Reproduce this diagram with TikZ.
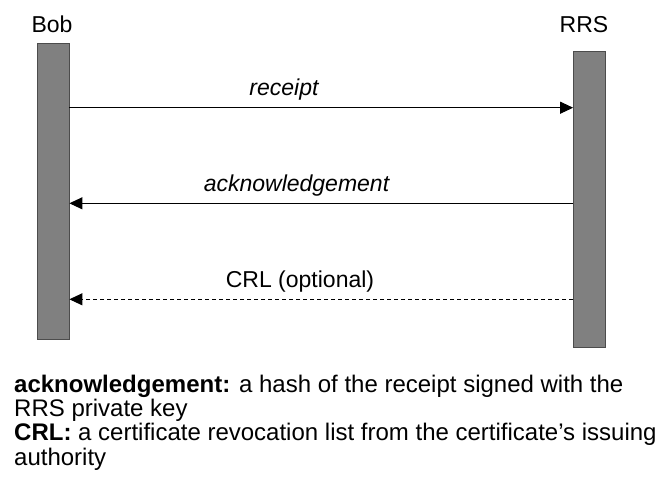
\documentclass[tikz,border=0pt]{standalone}
\usepackage{fontspec}
\setmainfont{Liberation Sans}
\usepackage{tikz}
\usetikzlibrary{arrows.meta,positioning}

\begin{document}
\begin{tikzpicture}[x=1pt, y=-1pt,
  bar/.style={rectangle, draw=black!70, line width=0.8pt, fill=black!50, minimum width=32pt, minimum height=296pt, inner sep=0pt},
  actor/.style={font=\fontsize{23}{26}\selectfont, inner sep=0pt, anchor=base},
  msglabel/.style={font=\fontsize{23}{26}\selectfont, inner sep=0pt, anchor=base},
  msg/.style={line width=1pt, -{Triangle[length=13pt,width=12pt]}},
  optmsg/.style={msg, dash pattern=on 4pt off 3pt}]

\useasboundingbox (0,0) rectangle (658,485);

% Partecipanti
\node[actor] (bob) at (52,32) {Bob};
\node[actor] (rrs) at (584,32) {RRS};
\node[bar] (bobbar) at (53,191) {};
\node[bar] (rrsbar) at (589.5,199.3) {};

% Messaggi
\node[msglabel] (rcpt) at (284,95.5) {\itshape receipt};
\node[msglabel] (ack) at (296.5,191.7) {\itshape acknowledgement};
\node[msglabel] (crl) at (300,287.5) {CRL (optional)};

\draw[msg] (bobbar.east |- 0,107.7) -- (rrsbar.west |- 0,107.7);
\draw[msg] (rrsbar.west |- 0,203.3) -- (bobbar.east |- 0,203.3);
\draw[optmsg] (rrsbar.west |- 0,299.3) -- (bobbar.east |- 0,299.3);

% Legenda (ancorata alla base dell'ultima riga)
\node[font=\fontsize{24}{24.3}\selectfont, inner sep=0pt, anchor=base west, align=left] (legend) at (14,465)
  {\textbf{acknowledgement:} a hash of the receipt signed with the\\
   RRS private key\\
   \textbf{CRL:} a certificate revocation list from the certificate’s issuing\\
   authority};

\end{tikzpicture}
\end{document}
